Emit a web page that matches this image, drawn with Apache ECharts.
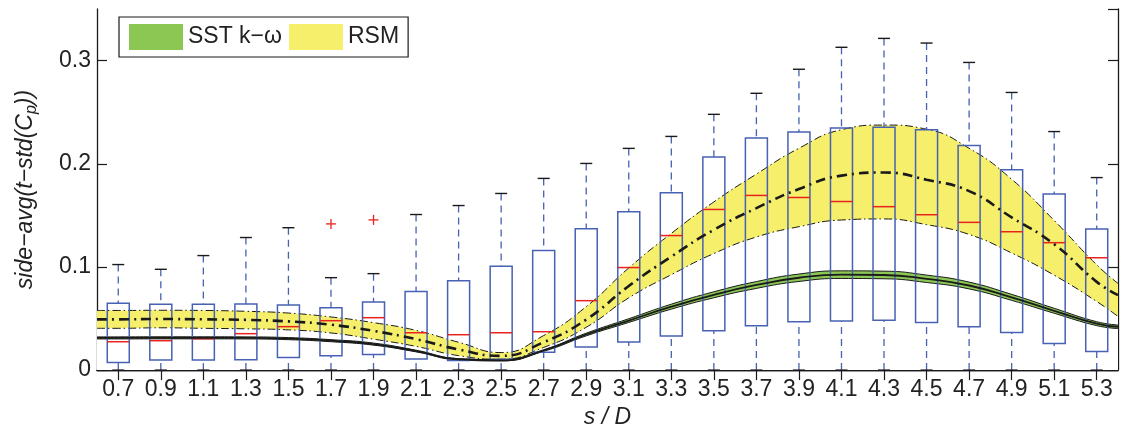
<!DOCTYPE html>
<html>
<head>
<meta charset="utf-8">
<script src="https://cdn.jsdelivr.net/npm/echarts@6/dist/echarts.min.js"></script>
<style>
  html, body { margin: 0; padding: 0; background: #fff; }
  #chart { width: 1121px; height: 434px; }
</style>
</head>
<body>
<div id="chart"></div>
<script>
// Measurement stations along the surface (s / D)
const categories = ['0.7', '0.9', '1.1', '1.3', '1.5', '1.7', '1.9', '2.1', '2.3', '2.5', '2.7', '2.9',
                    '3.1', '3.3', '3.5', '3.7', '3.9', '4.1', '4.3', '4.5', '4.7', '4.9', '5.1', '5.3'];

// Box-plot statistics per station
const whiskerLow  = [0, 0, 0, 0, 0, 0, 0, 0, 0, 0, 0, 0, 0, 0, 0, 0, 0, 0, 0, 0, 0, 0, 0, 0];
const q1          = [0.0074, 0.0097, 0.0097, 0.0100, 0.0123, 0.0139, 0.0152, 0.0107, 0.0094, 0.0104, 0.0172, 0.0223,
                     0.0272, 0.0330, 0.0382, 0.0430, 0.0469, 0.0476, 0.0484, 0.0461, 0.0419, 0.0364, 0.0257, 0.0180];
const median      = [0.0275, 0.0285, 0.0304, 0.0353, 0.0421, 0.0479, 0.0508, 0.0362, 0.0343, 0.0362, 0.0372, 0.0673,
                     0.0994, 0.1304, 0.1557, 0.1693, 0.1673, 0.1634, 0.1584, 0.1506, 0.1432, 0.1341, 0.1235, 0.1089];
const q3          = [0.0647, 0.0638, 0.0638, 0.0641, 0.0631, 0.0605, 0.0660, 0.0761, 0.0867, 0.1006, 0.1159, 0.1369,
                     0.1534, 0.1718, 0.2065, 0.2249, 0.2307, 0.2346, 0.2354, 0.2329, 0.2176, 0.1943, 0.1707, 0.1367];
const whiskerHigh = [0.1023, 0.0977, 0.1110, 0.1285, 0.1380, 0.0896, 0.0935, 0.1508, 0.1595, 0.1712, 0.1858, 0.2003,
                     0.2149, 0.2265, 0.2479, 0.2683, 0.2916, 0.3129, 0.3215, 0.3170, 0.2982, 0.2691, 0.2312, 0.1866];
// Outliers: [station index, value]
const outliers = [[5, 0.1417], [6, 0.1456]];

// Simulation curves sampled along s / D
const curveS   = [0.6, 0.7, 0.9, 1.1, 1.3, 1.5, 1.7, 1.9, 2.1, 2.3, 2.5, 2.7, 2.9,
                  3.1, 3.3, 3.5, 3.7, 3.9, 4.1, 4.3, 4.5, 4.7, 4.9, 5.1, 5.3, 5.4];
const rsmUpper = [0.0578, 0.0578, 0.0580, 0.0578, 0.0570, 0.0553, 0.0515, 0.0460, 0.0385, 0.0270, 0.0170, 0.0335, 0.0615,
                  0.0990, 0.1325, 0.1630, 0.1900, 0.2150, 0.2330, 0.2375, 0.2335, 0.2150, 0.1850, 0.1450, 0.1020, 0.0840];
const rsmMean  = [0.0492, 0.0492, 0.0495, 0.0492, 0.0487, 0.0472, 0.0440, 0.0380, 0.0300, 0.0200, 0.0138, 0.0270, 0.0490,
                  0.0815, 0.1100, 0.1360, 0.1570, 0.1755, 0.1885, 0.1915, 0.1845, 0.1735, 0.1480, 0.1220, 0.0855, 0.0727];
const rsmLower = [0.0405, 0.0405, 0.0410, 0.0405, 0.0400, 0.0390, 0.0360, 0.0300, 0.0230, 0.0140, 0.0105, 0.0220, 0.0415,
                  0.0700, 0.0925, 0.1130, 0.1290, 0.1390, 0.1455, 0.1465, 0.1410, 0.1315, 0.1135, 0.0920, 0.0665, 0.0520];
const sstUpper = [0.0322, 0.0322, 0.0323, 0.0323, 0.0322, 0.0315, 0.0295, 0.0262, 0.0193, 0.0111, 0.0101, 0.0198, 0.0358,
                  0.0498, 0.0639, 0.0759, 0.0858, 0.0931, 0.0962, 0.0959, 0.0921, 0.0853, 0.0734, 0.0599, 0.0469, 0.0437];
const sstMean  = [0.0312, 0.0312, 0.0313, 0.0313, 0.0312, 0.0305, 0.0285, 0.0252, 0.0185, 0.0105, 0.0095, 0.0190, 0.0345,
                  0.0480, 0.0615, 0.0730, 0.0825, 0.0895, 0.0925, 0.0922, 0.0885, 0.0820, 0.0705, 0.0575, 0.0450, 0.0420];
const sstLower = [0.0302, 0.0302, 0.0303, 0.0303, 0.0302, 0.0295, 0.0275, 0.0242, 0.0177, 0.0099, 0.0089, 0.0182, 0.0332,
                  0.0462, 0.0591, 0.0701, 0.0792, 0.0859, 0.0888, 0.0885, 0.0849, 0.0787, 0.0676, 0.0551, 0.0431, 0.0403];

const SST_NAME = 'SST k\u2212\u03c9';
const RSM_NAME = 'RSM';

const FONT = '"Liberation Sans", Arial, Helvetica, sans-serif';
const BLUE = '#4761b3';
const RED = '#e8221c';
const GREEN = '#8cc653';
const YELLOW = '#f5ef6c';
const INK = '#1a1a1a';
const SMOOTH = 0.5;

const pairs = (ys) => curveS.map((s, i) => [s, ys[i]]);

function renderBox(params, api) {
  const i = api.value(0);
  const lo = api.coord([i, api.value(1)]);
  const b1 = api.coord([i, api.value(2)]);
  const md = api.coord([i, api.value(3)]);
  const b3 = api.coord([i, api.value(4)]);
  const hi = api.coord([i, api.value(5)]);
  const x = lo[0];
  const hw = 11, cw = 6;
  const whisker = { stroke: BLUE, lineWidth: 1.3, lineDash: [7, 5] };
  return {
    type: 'group',
    children: [
      { type: 'line', shape: { x1: x, y1: hi[1], x2: x, y2: b3[1] }, style: whisker },
      { type: 'line', shape: { x1: x, y1: lo[1], x2: x, y2: b1[1] }, style: whisker },
      { type: 'line', shape: { x1: x - cw, y1: hi[1], x2: x + cw, y2: hi[1] }, style: { stroke: INK, lineWidth: 1.4 } },
      { type: 'line', shape: { x1: x - cw, y1: lo[1], x2: x + cw, y2: lo[1] }, style: { stroke: INK, lineWidth: 1.4 } },
      { type: 'rect', shape: { x: x - hw, y: b3[1], width: 2 * hw, height: b1[1] - b3[1] },
        style: { fill: 'none', stroke: BLUE, lineWidth: 1.5 } },
      { type: 'line', shape: { x1: x - hw, y1: md[1], x2: x + hw, y2: md[1] }, style: { stroke: RED, lineWidth: 1.5 } }
    ]
  };
}

function renderPlus(params, api) {
  const p = api.coord([api.value(0), api.value(1)]);
  const r = 5;
  const st = { stroke: RED, lineWidth: 1.3 };
  return {
    type: 'group',
    children: [
      { type: 'line', shape: { x1: p[0] - r, y1: p[1], x2: p[0] + r, y2: p[1] }, style: st },
      { type: 'line', shape: { x1: p[0], y1: p[1] - r, x2: p[0], y2: p[1] + r }, style: st }
    ]
  };
}

// A band is painted as a filled area under its upper edge, then masked in white under its lower edge.
function bandEdge(name, ys, fill, lineStyle) {
  return {
    name: name, type: 'line', xAxisIndex: 2, yAxisIndex: 0,
    data: pairs(ys), smooth: SMOOTH, showSymbol: false, silent: true, z: 1,
    itemStyle: { color: fill },
    areaStyle: { color: fill, opacity: 1, origin: 'start' },
    lineStyle: lineStyle
  };
}

// Legend swatch: a plain coloured rectangle
function legendSwatch(name, color) {
  return {
    name: name, type: 'line', xAxisIndex: 2, yAxisIndex: 0, data: [], silent: true,
    itemStyle: { color: color, borderColor: color, borderWidth: 0 },
    lineStyle: { color: color, width: 0 }
  };
}

const boxData = categories.map((c, i) => [i, whiskerLow[i], q1[i], median[i], q3[i], whiskerHigh[i]]);

const chart = echarts.init(document.getElementById('chart'), null, { renderer: 'canvas' });

const axisLine = { show: true, lineStyle: { color: INK, width: 1.3 } };
const innerTick = { show: true, inside: true, length: 10, lineStyle: { color: INK, width: 1.2 } };
const dashDotThin = { color: INK, width: 1, type: [8, 3, 1.5, 3] };
const solidThin = { color: INK, width: 1 };

chart.setOption({
  animation: false,
  backgroundColor: '#fff',
  textStyle: { fontFamily: FONT },
  grid: { left: 97, right: 3, top: 9, bottom: 62, containLabel: false },
  legend: {
    left: 119, top: 17,
    itemWidth: 54, itemHeight: 26, itemGap: 7,
    padding: [7, 9, 7, 10],
    borderColor: INK, borderWidth: 1.2, backgroundColor: '#fff',
    selectedMode: false,
    icon: 'rect',
    itemStyle: { borderWidth: 0 },
    textStyle: { fontFamily: FONT, fontSize: 23, color: '#222' },
    data: [SST_NAME, RSM_NAME]
  },
  xAxis: [
    {
      type: 'category', data: categories, position: 'bottom',
      axisLine: axisLine,
      axisTick: Object.assign({ alignWithLabel: true }, innerTick),
      axisLabel: { fontFamily: FONT, fontSize: 23, color: '#222', margin: 8 },
      name: 's / D', nameLocation: 'middle', nameGap: 35,
      nameTextStyle: { fontFamily: FONT, fontSize: 23, fontStyle: 'italic', color: '#222' }
    },
    {
      type: 'category', data: categories, position: 'top',
      axisLine: axisLine,
      axisTick: Object.assign({ alignWithLabel: true }, innerTick),
      axisLabel: { show: false }
    },
    { type: 'value', min: 0.6, max: 5.4, show: false }
  ],
  yAxis: [
    {
      type: 'value', min: 0, max: 0.35, interval: 0.1, position: 'left',
      axisLine: axisLine, axisTick: innerTick, splitLine: { show: false },
      axisLabel: { fontFamily: FONT, fontSize: 23, color: '#222', margin: 6, showMaxLabel: false },
      name: '{i|side\u2212avg(t\u2212std(C}{s|p}{i|))}',
      nameLocation: 'middle', nameGap: 57, nameRotate: 90,
      nameTextStyle: {
        color: '#222',
        rich: {
          i: { fontFamily: FONT, fontSize: 23, fontStyle: 'italic', color: '#222', lineHeight: 28 },
          s: { fontFamily: FONT, fontSize: 16, fontStyle: 'italic', color: '#222', lineHeight: 14, verticalAlign: 'bottom' }
        }
      }
    },
    {
      type: 'value', min: 0, max: 0.35, interval: 0.1, position: 'right',
      axisLine: axisLine, axisTick: innerTick, splitLine: { show: false },
      axisLabel: { show: false }
    }
  ],
  series: [
    legendSwatch(SST_NAME, GREEN),
    legendSwatch(RSM_NAME, YELLOW),
    // RSM band
    bandEdge('rsm-upper', rsmUpper, YELLOW, dashDotThin),
    bandEdge('rsm-lower', rsmLower, '#ffffff', dashDotThin),
    // SST k-omega band
    bandEdge('sst-upper', sstUpper, GREEN, solidThin),
    bandEdge('sst-lower', sstLower, '#ffffff', solidThin),
    // Measured distribution per station
    {
      name: 'boxes', type: 'custom', xAxisIndex: 0, yAxisIndex: 0, z: 2, silent: true,
      renderItem: renderBox,
      encode: { x: 0, y: [1, 2, 3, 4, 5] },
      data: boxData
    },
    {
      name: 'outliers', type: 'custom', xAxisIndex: 0, yAxisIndex: 0, z: 2, silent: true,
      renderItem: renderPlus,
      encode: { x: 0, y: 1 },
      data: outliers
    },
    // Mean curves
    {
      name: 'sst-mean', type: 'line', xAxisIndex: 2, yAxisIndex: 0,
      data: pairs(sstMean), smooth: SMOOTH, showSymbol: false, z: 3, silent: true,
      lineStyle: { color: INK, width: 1.8 }
    },
    {
      name: 'rsm-mean', type: 'line', xAxisIndex: 2, yAxisIndex: 0,
      data: pairs(rsmMean), smooth: SMOOTH, showSymbol: false, z: 3, silent: true,
      lineStyle: { color: INK, width: 2.6, type: [10, 5, 2, 5] }
    }
  ]
});
</script>
</body>
</html>
